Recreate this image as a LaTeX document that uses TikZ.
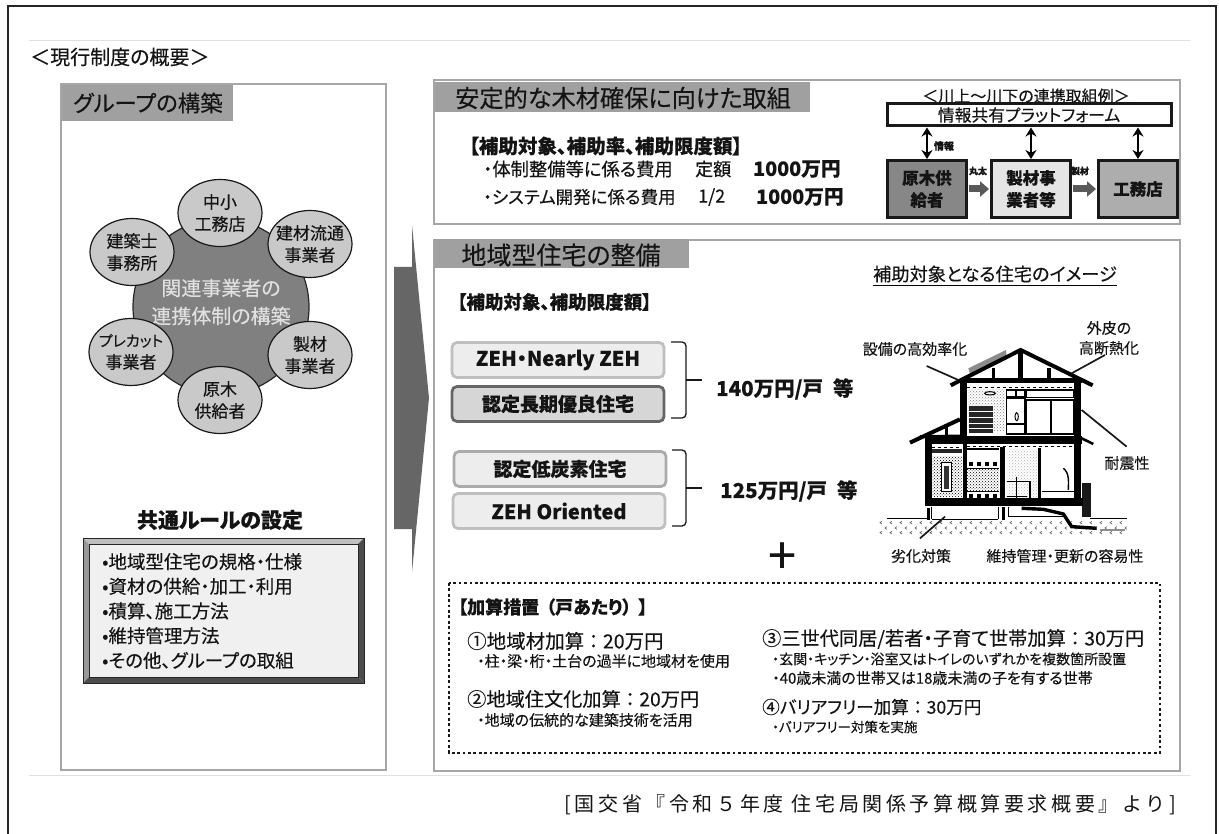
\documentclass[tikz,border=0pt]{standalone}
\usepackage{fontspec}
\setmainfont{Noto Sans CJK JP}[RawFeature=+palt, UprightFeatures={FakeBold=0.25}, BoldFeatures={FakeBold=0.15}]
\newfontfamily\srcfont{Noto Sans CJK JP}[LetterSpace=18]
\usepackage{xcolor}
\usepackage{tikz}
\usetikzlibrary{shapes.geometric,arrows.meta,positioning,patterns}
\newcommand{\fsz}[2]{\fontsize{#1}{#2}\selectfont}
\newcommand{\wcolon}{\hspace{4.5pt}：\hspace{4.5pt}}
\definecolor{framegray}{HTML}{A6A6A6}
\definecolor{headgray}{HTML}{A0A0A0}
\definecolor{inkgray}{HTML}{141414}

\begin{document}
\begin{tikzpicture}[
    x=1pt, y=-1pt,
    every node/.style={inner sep=0pt, text=inkgray},
    panel/.style={draw=framegray, line width=2.6pt, fill=white},
    heading/.style={fill=headgray},
    lbl/.style={anchor=west},
    partner/.style={ellipse, draw=black!90, line width=1.2pt, fill=black!21, minimum width=84pt, minimum height=67pt, inner sep=-12pt, align=center, font=\fsz{17}{22}},
    pill/.style={rectangle, rounded corners=5pt, line width=2.8pt, draw=black!25, fill=black!7, minimum width=212pt, minimum height=35pt, font=\bfseries\fsz{19}{22}},
    flowbox/.style={rectangle, draw=black!90, line width=3pt, minimum width=79pt, minimum height=57pt, align=center, font=\bfseries\fsz{16.5}{22}},
    dblarrow/.style={{Stealth[length=9pt,width=11pt]}-{Stealth[length=9pt,width=11pt]}, line width=2.4pt, black},
    blockarrow/.style={-{Triangle[length=9pt,width=15pt]}, line width=7pt, black!65, shorten <=1pt, shorten >=1pt},
    leader/.style={line width=1.7pt, black!90},
    wall/.style={line width=4.4pt, black},
    thinwall/.style={line width=1.6pt, black}
]
    \useasboundingbox (0,0) rectangle (1219,834);
    \fill[white] (0,0) rectangle (1219,834);

    % page frame and the faint inner sheet
    \draw[black!85, line width=1.6pt] (8,834) -- (8,6) -- (1216,6) -- (1216,834);
    \draw[black!12, line width=0.8pt] (29,40) -- (1190,40) (29,775) -- (1190,775);
    \node[lbl, font=\fsz{20}{24}] (overview) at (30,57) {＜現行制度の概要＞};

    % left panel
    \draw[panel] (61,84) rectangle (386,770);
    \fill[heading] (62,85) rectangle (233,121);
    \node[font=\fsz{22.5}{28}] (grouptitle) at (148,103) {グループの構築};

    \node[circle, draw=black!85, line width=1.2pt, fill=black!50, minimum size=176pt] (hub) at (221,307) {};
    \node[align=center, text=black!12, font=\fsz{20}{28}] (hubtext) at (221,302) {関連事業者の\\連携体制の構築};
    \node[partner] (builder) at (220,213) {中小\\工務店};
    \node[partner] (dealer) at (310,244) {建材流通\\事業者};
    \node[partner] (sawmill) at (310,355) {製材\\事業者};
    \node[partner] (logger) at (220,400) {原木\\供給者};
    \node[partner] (precut) at (131,352) {\fsz{15}{22}プレカット\\\fsz{17}{22}事業者};
    \node[partner] (architect) at (132,252) {建築士\\事務所};

    \node[font=\bfseries\fsz{21}{24}] (ruletitle) at (220,520) {共通ルールの設定};
    \fill[black!25] (83,538) -- (364,538) -- (358,544) -- (89,544) -- cycle;
    \fill[black!40] (83,538) -- (89,544) -- (89,677) -- (83,683) -- cycle;
    \fill[black!70] (364,538) -- (364,683) -- (358,677) -- (358,544) -- cycle;
    \fill[black!70] (83,683) -- (89,677) -- (358,677) -- (364,683) -- cycle;
    \draw[black!85, line width=0.9pt, fill=black!6] (89,544) rectangle (358,677);
    \draw[black!85, line width=1pt] (83,538) rectangle (364,683);
    \node[lbl, font=\fsz{18.5}{24.7}, align=left] (rules) at (102,611) {•地域型住宅の規格・仕様\\•資材の供給・加工・利用\\•積算、施工方法\\•維持管理方法\\•その他、グループの取組};

    % big arrow between the panels
    \fill[black!60] (394,267) -- (412,267) -- (412,225) -- (429,398) -- (412,572) -- (412,529) -- (394,529) -- cycle;

    % upper right panel
    \draw[panel] (434,80) rectangle (1180,224);
    \fill[heading] (435,82) rectangle (810,112);
    \node[lbl, font=\fsz{24.2}{28}] (supplytitle) at (455,98) {安定的な木材確保に向けた取組};
    \node[lbl, font=\bfseries\fsz{19.5}{22}] (supplyhead) at (469,146) {【補助対象、補助率、補助限度額】};
    \node[lbl, font=\fsz{18.3}{22}] (costa) at (483,169) {・体制整備等に係る費用};
    \node[lbl, font=\fsz{18}{22}] (ratea) at (695,169) {定額};
    \node[lbl, font=\bfseries\fsz{19.7}{22}] (suma) at (753,169) {1000万円};
    \node[lbl, font=\fsz{17.5}{22}] (costb) at (483,197) {・システム開発に係る費用};
    \node[lbl, font=\fsz{18}{22}] (rateb) at (698,197) {1/2};
    \node[lbl, font=\bfseries\fsz{19.7}{22}] (sumb) at (756,197) {1000万円};

    \node[font=\fsz{16}{18}] (chaintitle) at (1026,96) {＜川上～川下の連携取組例＞};
    \node[rectangle, draw=black!90, line width=3pt, fill=white, minimum width=284pt, minimum height=22pt, font=\fsz{16.8}{18}] (platform) at (1029,115) {情報共有プラットフォーム};
    \node[flowbox, fill=black!47] (genboku) at (927,189) {原木供\\給者};
    \node[flowbox, fill=black!10, right=22pt of genboku] (seizai) {製材事\\業者等};
    \node[flowbox, fill=black!32, right=25pt of seizai] (koumuten) {工務店};
    \foreach \flowname in {genboku,seizai,koumuten}
        \draw[dblarrow] (\flowname.north) -- (\flowname.north |- platform.south);
    \draw[blockarrow] (genboku) -- (seizai);
    \draw[blockarrow] (seizai) -- (koumuten);
    \node[font=\bfseries\fsz{10}{12}] (joho) at (944,146) {情報};
    \node[font=\bfseries\fsz{9}{12}] (maruta) at (978,171) {丸太};
    \node[font=\bfseries\fsz{9}{12}] (seizaimono) at (1080,171) {製材};

    % lower right panel
    \draw[panel] (434,240) rectangle (1180,771);
    \fill[heading] (434,239) rectangle (689,268);
    \node[font=\fsz{25}{28}] (housingtitle) at (561,255) {地域型住宅の整備};
    \node[lbl, font=\bfseries\fsz{18.5}{22}] (housinghead) at (457,302) {【補助対象、補助限度額】};

    \node[pill, font=\bfseries\fsz{20.2}{22}] (zeh) at (558,360) {ZEH・Nearly ZEH};
    \node[pill, draw=black!60, fill=black!16] (choki) at (558,404) {認定長期優良住宅};
    \node[pill, draw=black!33] (teitanso) at (560,469) {認定低炭素住宅};
    \node[pill, font=\bfseries\fsz{20}{22}] (oriented) at (559,511) {ZEH Oriented};

    \draw[line width=1.3pt, black!90, rounded corners=4pt] (671,342) -- (686,342) -- (686,418) -- (671,418);
    \draw[line width=1.3pt, black!90] (686,380) -- (702,380);
    \draw[line width=1.3pt, black!90, rounded corners=4pt] (672,450) -- (686,450) -- (686,526) -- (672,526);
    \draw[line width=1.3pt, black!90] (686,488) -- (702,488);
    \node[lbl, font=\bfseries\fsz{20.5}{22}] (sumhigh) at (716,389) {140万円/戸\hspace{10pt}等};
    \node[lbl, font=\bfseries\fsz{20.5}{22}] (sumlow) at (720,491) {125万円/戸\hspace{10pt}等};

    \node[font=\fsz{18.2}{20}] (imagetitle) at (995,274) {補助対象となる住宅のイメージ};
    \draw[black, line width=0.8pt] (imagetitle.south west |- 0,285) -- (imagetitle.south east |- 0,285);

    % section through the house, in its own small grid
    \begin{scope}[shift={(850,300)}, x=0.3333pt, y=-0.3333pt]
        \fill[pattern=crosshatch dots, pattern color=black!50] (355,270) rectangle (465,392);
        \fill[pattern=crosshatch dots, pattern color=black!30] (470,450) rectangle (565,595);
        \fill[pattern=crosshatch dots, pattern color=black] (245,470) rectangle (335,590);
        \fill[pattern=crosshatch dots, pattern color=black] (350,505) rectangle (447,575);
        \fill[black!45] (355,205) -- (468,150) -- (470,170) -- (360,222) -- cycle;
        \fill[black!85] (358,318) rectangle (428,400);
        \foreach \yy in {335,352,369,386}
            \draw[white, line width=0.5pt] (358,\yy) -- (428,\yy);
        \fill[white, draw=black, line width=1.2pt] (275,488) rectangle (305,575);
        \fill[black!80] (282,497) rectangle (298,567);
        \fill[black!90] (695,548) rectangle (722,650);
        % ground marks
        \foreach \xx in {90,120,...,810} {
            \draw[black!65, line width=0.6pt] (\xx+6,664) -- (\xx,668) -- (\xx+6,672);
            \draw[black!65, line width=0.6pt] (\xx+21,680) -- (\xx+15,684) -- (\xx+21,688);
            \draw[black!65, line width=0.6pt] (\xx+6,694) -- (\xx,698) -- (\xx+6,702);
        }
        \fill[white] (240,622) rectangle (450,656);
        \draw[black, line width=1.2pt] (110,655) -- (230,655) (245,658) -- (445,658) (475,650) -- (640,650) (720,655) -- (830,655);
        \draw[black, line width=1.2pt] (245,620) -- (245,658) (445,620) -- (445,658) (475,620) -- (475,650);
        \draw[wall, line width=3pt] (235,625) -- (235,660) (460,620) -- (460,660);
        \draw[wall, line width=3.4pt] (515,625) -- (580,628) -- (640,642) -- (665,680) -- (740,685);
        \draw[black!45, line width=2.4pt] (750,690) -- (825,690);
        % roofs and frame
        \draw[wall, line width=4pt] (302,256) -- (512,150) -- (728,256);
        \draw[wall, line width=4pt] (180,428) -- (330,358);
        \draw[wall, line width=2.6pt] (695,415) -- (730,432);
        \draw[wall, line width=4.4pt] (332,242) -- (695,242);
        \draw[wall, line width=4.4pt] (512,150) -- (512,240);
        \draw[wall, line width=3.6pt] (430,205) -- (430,240) (597,205) -- (597,240) (290,382) -- (290,410);
        \draw[wall, line width=7pt] (342,240) -- (342,425);
        \draw[wall, line width=7pt] (683,240) -- (683,610);
        \draw[wall, line width=6.6pt] (235,425) -- (235,615);
        \draw[wall, line width=8.6pt] (225,420) -- (695,420);
        \draw[wall, line width=3pt] (210,410) -- (340,408);
        \draw[wall, line width=8pt] (225,605) -- (700,605);
        \draw[wall, line width=3.2pt] (345,430) -- (345,600);
        \draw[wall, line width=4.6pt] (458,440) -- (458,600);
        % windows and partitions
        \draw[thinwall] (470,270) rectangle (525,402) (530,270) rectangle (672,292) (530,300) rectangle (672,402);
        \draw[thinwall, line width=2.4pt] (603,300) -- (603,402) (470,292) -- (525,292) (470,372) -- (525,372) (498,270) -- (498,292) (568,445) -- (568,600);
        \draw[thinwall] (350,447) -- (448,447) (350,505) -- (448,505) (350,575) -- (448,575) (470,545) -- (540,545) -- (540,600) (575,575) -- (672,575);
        \foreach \xx in {358,382,406,430} {
            \fill[black] (\xx,487) rectangle (\xx+11,499);
            \fill[black] (\xx,583) rectangle (\xx+11,597);
        }
        \draw[black, dashed, line width=1pt] (350,262) -- (675,262) (245,442) -- (335,442) (350,440) -- (670,440);
        \draw[thinwall, line width=1.4pt] (640,505) .. controls (660,520) and (655,550) .. (655,570);
        \fill[black!85] (245,448) rectangle (335,460);
        \draw[thinwall, line width=1pt] (420,280) ellipse (16 and 5);
        \draw[thinwall, line width=1pt] (500,350) ellipse (5 and 12);
        \draw[wall, line width=1.4pt] (500,530) -- (500,600) (470,590) -- (530,590);
        % leaders
        \draw[leader] (230,198) -- (325,240);
        \draw[leader] (665,220) -- (765,165);
        \draw[leader] (695,330) -- (830,440);
        \draw[leader] (210,715) -- (285,650);
    \end{scope}
    \node[font=\fsz{15}{18}] (efficiency) at (915,349) {設備の高効率化};
    \node[font=\fsz{15}{20}, align=center] (insulation) at (1109,338) {外皮の\\高断熱化};
    \node[font=\fsz{15}{18}] (seismic) at (1127,463) {耐震性};
    \node[font=\fsz{15}{18}] (aging) at (921,556) {劣化対策};
    \node[font=\fsz{15}{18}] (upkeep) at (1065,556) {維持管理・更新の容易性};

    \node[font=\fsz{50}{50}] (plus) at (782,558) {+};

    % bonus measures
    \draw[black!90, line width=2.7pt, dash pattern=on 2.7pt off 2.7pt] (449,583) rectangle (1160,753);
    \node[lbl, font=\bfseries\fsz{18}{22}] (bonushead) at (458,607) {【加算措置\hspace{7pt}（戸あたり）\hspace{7pt}】};
    \node[lbl, font=\fsz{19.5}{22}] (bonusa) at (467,641) {①地域材加算\wcolon 20万円};
    \node[lbl, font=\fsz{15}{18}] (bonusanote) at (477,661) {・柱・梁・桁・土台の過半に地域材を使用};
    \node[lbl, font=\fsz{19.2}{22}] (bonusb) at (467,699) {②地域住文化加算\wcolon 20万円};
    \node[lbl, font=\fsz{15}{18}] (bonusbnote) at (477,720) {・地域の伝統的な建築技術を活用};
    \node[lbl, font=\fsz{19.2}{22}] (bonusc) at (762,639) {③三世代同居/若者・子育て世帯加算\wcolon 30万円};
    \node[lbl, font=\fsz{14}{18}] (bonuscnotea) at (772,659) {・玄関・キッチン・浴室又はトイレのいずれかを複数箇所設置};
    \node[lbl, font=\fsz{15}{18}] (bonuscnoteb) at (772,678) {・40歳未満の世帯又は18歳未満の子を有する世帯};
    \node[lbl, font=\fsz{17.6}{22}] (bonusd) at (762,707) {④バリアフリー加算\wcolon 30万円};
    \node[lbl, font=\fsz{13.5}{18}] (bonusdnote) at (772,727) {・バリアフリー対策を実施};

    \node[anchor=east, font=\srcfont\fsz{20}{22}] (source) at (1176,805) {[国交省『令和５年度 住宅局関係予算概算要求概要』より]};
\end{tikzpicture}
\end{document}
